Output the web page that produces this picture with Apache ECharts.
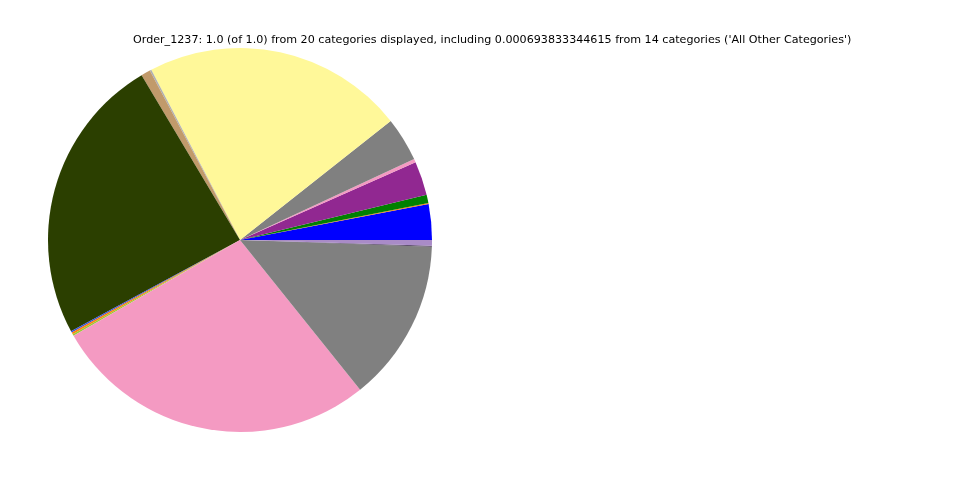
<!DOCTYPE html>
<html>
<head>
<meta charset="utf-8">
<script src="https://cdn.jsdelivr.net/npm/echarts@6/dist/echarts.min.js"></script>
<style>html,body{margin:0;padding:0;background:#fff}#c{width:960px;height:480px}</style>
</head>
<body>
<div id="c"></div>
<script>
var titleText = "Order_1237: 1.0 (of 1.0) from 20 categories displayed, including 0.000693833344615 from 14 categories ('All Other Categories')";
var categories = ["C1","C2","C3","C4","C5","C6","C7","C8","C9","C10","C11","C12","C13","C14","C15","C16","All Other Categories"];
var values = [0.0300,0.0009,0.0069,0.0286,0.0028,0.0372,0.2200,0.0014,0.0078,0.2430,0.0014,0.0015,0.0014,0.2745,0.1369,0.0007,0.0048];
var colors = ["#0000ff","#ff7f0e","#008000","#912891","#f49ac2","#808080","#fff899","#b0b0b0","#c19a6b","#2b3f00","#3050e0","#ff7f0e","#9acd32","#f49ac2","#808080","#4a3a5a","#a98bc8"];

var data = categories.map(function(c,i){return {name:c,value:values[i],itemStyle:{color:colors[i]}};});
var chart = echarts.init(document.getElementById('c'));
chart.setOption({
  animation:false,
  backgroundColor:'#ffffff',
  title:{text:titleText,left:128,top:30,textStyle:{fontFamily:'DejaVu Sans',fontSize:11.14,fontWeight:'normal',color:'#000'}},
  series:[{
    type:'pie',
    center:[240,240],
    radius:[0,192],
    startAngle:0,
    clockwise:false,
    minAngle:0,
    avoidLabelOverlap:false,
    label:{show:false},
    labelLine:{show:false},
    emphasis:{disabled:true},
    itemStyle:{borderWidth:0},
    data:data
  }]
});
</script>
</body>
</html>
